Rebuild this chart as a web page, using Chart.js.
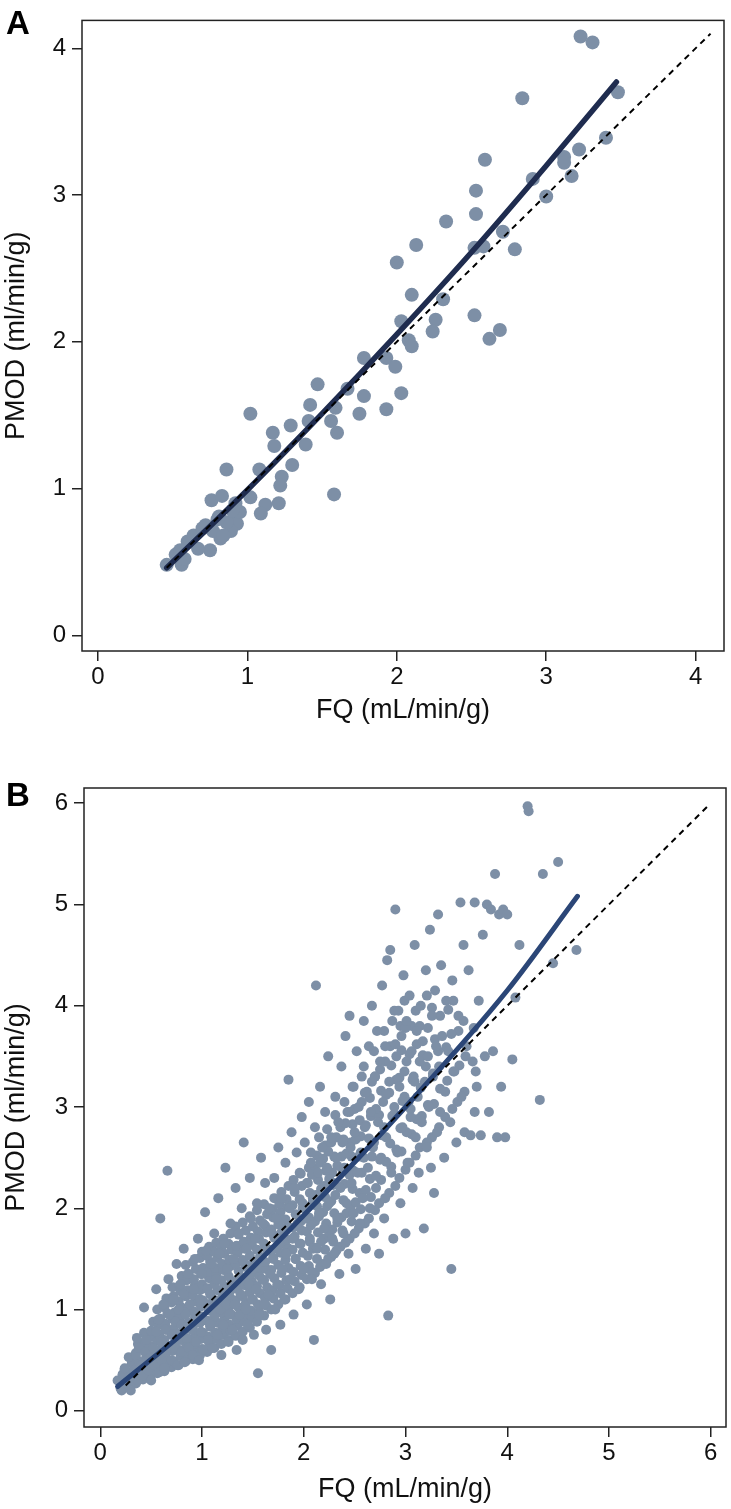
<!DOCTYPE html>
<html>
<head>
<meta charset="utf-8">
<script src="https://cdn.jsdelivr.net/npm/chart.js@4.4.1/dist/chart.umd.min.js"></script>
<style>
  body { margin: 0; background: #fff; width: 731px; height: 1509px; position: relative; overflow: hidden; font-family: "Liberation Sans", Arial, sans-serif; }
  .panel { position: absolute; left: 0; width: 731px; }
  .tag { position: absolute; left: 6px; font-weight: bold; font-size: 33px; line-height: 1; color: #000; }
</style>
</head>
<body>
<div class="panel" style="top:0;height:745px"><canvas id="chartA" width="731" height="745"></canvas></div>
<div class="panel" style="top:745px;height:764px"><canvas id="chartB" width="731" height="764"></canvas></div>
<div class="tag" style="top:6px">A</div>
<div class="tag" style="top:778px">B</div>
<script>
// axis labels and ticks
const xTitle = 'FQ (mL/min/g)';
const yTitle = 'PMOD (ml/min/g)';
const ticksA = [0, 1, 2, 3, 4];
const ticksB = [0, 1, 2, 3, 4, 5, 6];

// panel A: individual subjects [FQ, PMOD]
const pointsA = [
  [3.23,4.08],[3.31,4.04],[2.84,3.66],[3.48,3.70],[3.40,3.39],[3.22,3.31],[3.12,3.26],[3.12,3.22],
  [3.17,3.13],[2.91,3.11],[3.00,2.99],[2.59,3.24],[2.53,3.03],[2.53,2.87],[2.33,2.82],[2.71,2.75],
  [2.52,2.64],[2.58,2.65],[2.79,2.63],[2.13,2.66],[2.00,2.54],[2.10,2.32],[2.31,2.29],[2.03,2.14],
  [2.26,2.15],[2.24,2.07],[2.08,2.01],[2.10,1.97],[2.52,2.18],[2.62,2.02],[2.69,2.08],[1.78,1.89],
  [1.93,1.89],[1.99,1.83],[1.67,1.68],[1.78,1.63],[2.03,1.65],[1.75,1.51],[1.93,1.54],[1.59,1.55],
  [1.56,1.46],[1.47,1.71],[1.42,1.57],[1.41,1.46],[1.60,1.38],[1.29,1.43],[1.39,1.30],[1.17,1.38],
  [1.18,1.29],[1.02,1.51],[1.30,1.16],[1.08,1.13],[0.86,1.13],[1.23,1.08],[1.22,1.02],[1.58,0.96],
  [1.02,0.94],[1.21,0.90],[1.12,0.89],[1.09,0.83],[0.76,0.92],[0.83,0.95],[0.92,0.90],[0.81,0.81],
  [0.72,0.75],[0.92,0.82],[0.93,0.76],[0.89,0.71],[0.82,0.66],[0.75,0.58],[0.60,0.64],[0.67,0.59],
  [0.52,0.55],[0.46,0.48],[0.56,0.48],[0.95,0.84],[0.86,0.77],[0.77,0.71],[0.84,0.68],[0.64,0.68],
  [0.55,0.58],[0.58,0.52],[0.70,0.73],[0.80,0.79],[0.90,0.85]
];
// panel A: fitted curve and identity line
const fitAx = [0.46, 1.0, 1.5, 2.0, 2.5, 3.0, 3.47];
const fitAy = [0.46, 0.99, 1.51, 2.05, 2.61, 3.20, 3.77];
const idAx = [0.46, 4.1];

// panel B: scattered subjects [FQ, PMOD]
const pointsB = [
  [0.17,0.30],[0.20,0.22],[0.22,0.36],[0.25,0.27],[0.24,0.42],[0.28,0.33],[0.30,0.20],
  [0.33,0.40],[0.35,0.55],[0.37,0.30],[0.38,0.62],[0.40,0.45],[0.36,0.72],[0.42,0.35],[0.44,0.58],
  [0.45,0.70],[0.47,0.40],[0.48,0.52],[0.43,1.02],[0.50,0.30],
  [0.52,0.62],[0.53,0.45],[0.55,0.78],[0.56,0.55],[0.58,0.38],[0.57,0.90],[0.60,0.68],[0.60,0.50],
  [0.62,1.05],[0.63,0.42],[0.64,0.80],[0.55,1.20],[0.59,1.90],[0.66,2.37],[0.65,0.60],[0.67,1.30],[0.68,0.95],
  [0.70,0.50],[0.71,0.75],[0.72,1.10],[0.73,0.62],[0.74,0.88],[0.75,1.45],[0.76,0.45],[0.77,1.00],
  [0.78,0.70],[0.79,1.25],[0.80,0.58],[0.80,0.85],[0.82,1.60],[0.82,1.15],[0.83,0.48],[0.84,0.95],
  [0.85,0.72],[0.86,1.35],[0.87,0.62],[0.88,1.05],
  [0.90,0.80],[0.91,0.55],[0.92,1.20],[0.93,1.50],[0.94,0.68],[0.95,0.95],[0.96,1.70],[0.97,0.50],
  [0.98,1.10],[0.99,0.78],[1.00,1.35],[1.01,0.60],[1.02,0.90],[1.03,1.96],[1.04,1.58],[1.05,1.20],
  [1.06,0.70],[1.07,1.00],[1.08,0.85],[1.09,1.45],
  [1.10,0.62],[1.11,1.10],[1.12,1.75],[1.13,0.95],[1.14,1.30],[1.15,0.75],[1.16,2.10],[1.17,1.55],
  [1.18,1.00],[1.19,0.55],[1.20,1.20],[1.21,0.85],[1.22,1.65],[1.23,2.40],[1.24,1.05],[1.25,1.40],
  [1.26,0.68],[1.27,0.95],[1.28,1.85],[1.29,1.20],
  [1.30,0.80],[1.31,1.50],[1.32,1.05],[1.33,2.20],[1.34,0.60],[1.35,1.30],[1.36,1.75],[1.37,0.95],
  [1.38,1.15],[1.39,2.00],[1.40,0.70],[1.41,2.65],[1.42,1.45],[1.43,1.00],[1.44,1.60],[1.45,0.85],
  [1.46,1.25],[1.47,2.30],[1.48,1.90],[1.49,1.10],[1.55,0.37],
  [1.50,1.40],[1.51,0.75],[1.52,1.70],[1.53,1.20],[1.54,2.05],[1.56,0.95],[1.57,1.50],[1.58,2.50],
  [1.59,1.30],[1.60,1.85],[1.61,1.05],[1.62,2.25],[1.63,0.80],[1.64,1.60],[1.65,1.15],[1.66,2.00],
  [1.67,1.35],[1.68,0.60],[1.69,1.75],
  [1.70,1.50],[1.71,2.30],[1.72,1.00],[1.73,1.90],[1.74,1.25],[1.75,2.60],[1.76,1.65],[1.77,0.85],
  [1.78,2.10],[1.79,1.40],[1.80,1.80],[1.81,1.10],[1.82,2.45],[1.83,1.55],[1.85,3.27],[1.86,2.00],
  [1.87,1.30],[1.88,2.75],[1.89,1.70],[1.90,0.95],
  [1.91,2.20],[1.92,1.50],[1.93,2.55],[1.94,1.85],[1.95,1.20],[1.96,2.35],[1.97,1.65],[1.98,2.90],
  [1.99,2.05],[2.00,1.40],[2.01,2.65],[2.02,1.90],[2.03,1.05],[2.04,2.25],[2.05,3.05],[2.06,1.70],
  [2.07,2.45],[2.08,1.30],[2.09,2.10],[2.10,0.70],
  [2.11,2.80],[2.12,4.20],[2.13,1.60],[2.14,2.35],[2.15,1.95],[2.16,3.20],[2.17,1.25],[2.18,2.60],
  [2.19,2.15],[2.20,1.80],[2.21,2.95],[2.22,1.45],[2.23,2.40],[2.24,3.50],[2.25,2.05],[2.26,1.10],
  [2.27,2.70],[2.28,1.70],[2.29,2.25],[2.30,1.55],
  [2.31,3.10],[2.32,2.50],[2.33,1.90],[2.34,2.85],[2.35,1.35],[2.36,2.20],[2.37,3.40],[2.38,2.65],
  [2.39,1.75],[2.40,2.40],[2.41,3.70],[2.42,2.05],[2.43,2.95],[2.44,1.55],[2.45,3.90],[2.46,2.60],
  [2.47,2.25],[2.48,3.20],[2.49,1.95],
  [2.50,2.75],[2.51,1.40],[2.52,3.55],[2.53,2.35],[2.54,3.00],[2.55,1.85],[2.56,2.55],[2.57,3.30],
  [2.58,2.10],[2.59,3.85],[2.60,2.80],[2.61,1.60],[2.62,3.15],[2.63,2.40],[2.64,3.60],[2.65,2.00],
  [2.66,2.95],[2.67,4.00],[2.68,2.60],[2.69,1.75],
  [2.70,3.30],[2.71,2.20],[2.72,3.75],[2.73,2.85],[2.74,1.55],[2.75,3.45],[2.76,2.50],[2.77,4.20],
  [2.78,3.05],[2.79,1.90],[2.80,3.60],[2.81,2.70],[2.82,4.45],[2.83,0.94],[2.84,3.25],[2.85,4.55],
  [2.86,2.35],[2.87,3.85],[2.88,1.70],[2.89,3.00],[2.90,4.95],
  [2.91,3.50],[2.92,2.55],[2.93,3.95],[2.94,3.20],[2.95,2.05],[2.96,3.70],[2.97,2.80],[2.98,4.30],
  [2.99,3.35],[3.00,1.75],[3.01,3.85],[3.02,2.45],[3.03,3.05],[3.04,4.10],[3.05,2.90],[3.06,3.55],
  [3.07,2.20],[3.08,3.30],[3.09,4.60],[3.10,2.70],
  [3.11,3.75],[3.12,3.10],[3.13,2.35],[3.14,3.45],[3.15,4.00],[3.16,2.85],[3.17,3.65],[3.18,1.80],
  [3.19,3.25],[3.20,4.35],[3.21,2.60],[3.22,3.50],[3.23,3.00],[3.24,4.75],[3.25,2.40],[3.26,3.90],
  [3.27,3.30],[3.28,2.15],[3.29,4.15],[3.30,3.60],
  [3.31,2.75],[3.32,4.90],[3.33,3.40],[3.34,2.95],[3.35,4.40],[3.36,3.70],[3.38,2.50],[3.39,3.15],
  [3.40,4.05],[3.42,3.55],[3.44,2.85],[3.45,1.40],[3.46,4.25],[3.48,3.35],[3.50,2.65],
  [3.52,3.90],[3.54,5.02],[3.55,3.10],[3.57,4.60],[3.58,2.75],[3.60,3.60],[3.62,4.35],[3.64,2.72],
  [3.66,3.45],[3.68,5.02],[3.70,3.20],
  [3.72,4.05],[3.74,2.72],[3.76,4.70],[3.78,3.50],[3.80,5.00],[3.82,2.95],[3.84,4.95],[3.86,3.55],
  [3.88,5.30],[3.90,2.70],[3.92,4.90],[3.94,3.20],[3.96,4.95],
  [3.98,2.70],[4.00,4.90],[4.05,3.47],[4.08,4.08],[4.12,4.60],[4.20,5.97],[4.21,5.92],[4.32,3.07],
  [4.35,5.30],[4.45,4.42],[4.50,5.42],[4.68,4.55]
];
// panel B: the dense core of the cloud [FQ, PMOD]
const coreB = [
  [0.21,0.20],[0.23,0.28],[0.22,0.35],[0.24,0.41],
  [0.28,0.24],[0.30,0.32],[0.29,0.38],[0.31,0.47],[0.28,0.53],
  [0.35,0.27],[0.37,0.34],[0.36,0.43],[0.38,0.49],[0.35,0.57],[0.37,0.66],
  [0.42,0.31],[0.44,0.37],[0.43,0.46],[0.45,0.52],[0.42,0.62],[0.44,0.68],[0.43,0.77],
  [0.49,0.33],[0.51,0.42],[0.50,0.48],[0.52,0.58],[0.49,0.64],[0.51,0.73],[0.50,0.79],[0.52,0.88],
  [0.56,0.37],[0.58,0.43],[0.57,0.53],[0.59,0.60],[0.56,0.69],[0.58,0.75],[0.57,0.85],[0.59,0.91],[0.56,1.00],
  [0.63,0.39],[0.65,0.48],[0.64,0.54],[0.66,0.64],[0.63,0.70],[0.65,0.80],[0.64,0.86],[0.66,0.96],[0.63,1.02],[0.65,1.11],
  [0.70,0.43],[0.72,0.49],[0.71,0.59],[0.73,0.65],[0.70,0.75],[0.72,0.81],[0.71,0.91],[0.73,0.97],[0.70,1.07],[0.72,1.13],[0.71,1.22],
  [0.77,0.45],[0.79,0.54],[0.78,0.60],[0.80,0.70],[0.77,0.76],[0.79,0.86],[0.78,0.92],[0.80,1.02],[0.77,1.08],[0.79,1.18],[0.78,1.24],[0.80,1.33],
  [0.84,0.49],[0.86,0.55],[0.85,0.65],[0.87,0.71],[0.84,0.81],[0.86,0.87],[0.85,0.97],[0.87,1.03],[0.84,1.13],[0.86,1.19],[0.85,1.29],[0.87,1.35],[0.84,1.44],
  [0.91,0.51],[0.93,0.60],[0.92,0.66],[0.94,0.76],[0.91,0.82],[0.93,0.92],[0.92,0.98],[0.94,1.08],[0.91,1.14],[0.93,1.24],[0.92,1.30],[0.94,1.40],[0.91,1.47],
  [0.98,0.55],[1.00,0.61],[0.99,0.71],[1.01,0.77],[0.98,0.87],[1.00,0.93],[0.99,1.03],[1.01,1.09],[0.98,1.19],[1.00,1.25],[0.99,1.35],[1.01,1.41],[0.98,1.51],[1.00,1.57],
  [1.05,0.58],[1.07,0.67],[1.06,0.73],[1.08,0.83],[1.05,0.89],[1.07,0.99],[1.06,1.05],[1.08,1.15],[1.05,1.21],[1.07,1.31],[1.06,1.37],[1.08,1.47],[1.05,1.53],[1.07,1.62],
  [1.12,0.62],[1.14,0.71],[1.13,0.77],[1.15,0.87],[1.12,0.93],[1.14,1.03],[1.13,1.09],[1.15,1.19],[1.12,1.25],[1.14,1.35],[1.13,1.41],[1.15,1.51],[1.12,1.57],[1.14,1.66],
  [1.19,0.66],[1.21,0.75],[1.20,0.81],[1.22,0.91],[1.19,0.97],[1.21,1.07],[1.20,1.13],[1.22,1.23],[1.19,1.29],[1.21,1.39],[1.20,1.45],[1.22,1.55],[1.19,1.61],[1.21,1.70],
  [1.26,0.70],[1.28,0.79],[1.27,0.85],[1.29,0.95],[1.26,1.01],[1.28,1.11],[1.27,1.17],[1.29,1.27],[1.26,1.33],[1.28,1.43],[1.27,1.49],[1.29,1.59],[1.26,1.65],[1.28,1.75],
  [1.33,0.74],[1.35,0.84],[1.34,0.91],[1.36,1.02],[1.33,1.09],[1.35,1.20],[1.34,1.27],[1.36,1.38],[1.33,1.45],[1.35,1.56],[1.34,1.63],[1.36,1.74],[1.33,1.82],
  [1.40,0.78],[1.42,0.88],[1.41,0.95],[1.43,1.06],[1.40,1.13],[1.42,1.24],[1.41,1.31],[1.43,1.42],[1.40,1.49],[1.42,1.60],[1.41,1.67],[1.43,1.78],[1.40,1.86],
  [1.47,0.82],[1.49,0.92],[1.48,0.99],[1.50,1.10],[1.47,1.17],[1.49,1.28],[1.48,1.35],[1.50,1.46],[1.47,1.53],[1.49,1.64],[1.48,1.71],[1.50,1.82],[1.47,1.92],
  [1.54,0.88],[1.56,0.98],[1.55,1.05],[1.57,1.16],[1.54,1.23],[1.56,1.34],[1.55,1.41],[1.57,1.52],[1.54,1.59],[1.56,1.70],[1.55,1.77],[1.57,1.88],[1.54,1.98],
  [1.61,0.94],[1.63,1.04],[1.62,1.11],[1.64,1.22],[1.61,1.29],[1.63,1.40],[1.62,1.47],[1.64,1.58],[1.61,1.65],[1.63,1.76],[1.62,1.83],[1.64,1.94],[1.61,2.04],
  [1.68,1.00],[1.70,1.11],[1.69,1.19],[1.71,1.31],[1.68,1.39],[1.70,1.51],[1.69,1.59],[1.71,1.71],[1.68,1.79],[1.70,1.91],[1.69,1.99],[1.71,2.10],
  [1.75,1.05],[1.77,1.16],[1.76,1.24],[1.78,1.36],[1.75,1.44],[1.77,1.56],[1.76,1.64],[1.78,1.76],[1.75,1.84],[1.77,1.96],[1.76,2.04],[1.78,2.16],
  [1.82,1.10],[1.84,1.21],[1.83,1.29],[1.85,1.41],[1.82,1.49],[1.84,1.61],[1.83,1.69],[1.85,1.81],[1.82,1.89],[1.84,2.01],[1.83,2.09],[1.85,2.22],
  [1.89,1.16],[1.91,1.28],[1.90,1.37],[1.92,1.50],[1.89,1.59],[1.91,1.72],[1.90,1.81],[1.92,1.94],[1.89,2.03],[1.91,2.16],[1.90,2.28],
  [1.96,1.22],[1.98,1.34],[1.97,1.43],[1.99,1.56],[1.96,1.65],[1.98,1.78],[1.97,1.87],[1.99,2.00],[1.96,2.09],[1.98,2.22],[1.97,2.34],
  [2.03,1.30],[2.05,1.43],[2.04,1.53],[2.06,1.67],[2.03,1.77],[2.05,1.91],[2.04,2.01],[2.06,2.15],[2.03,2.25],[2.05,2.40],
  [2.11,1.36],[2.13,1.50],[2.12,1.61],[2.14,1.76],[2.11,1.87],[2.13,2.02],[2.12,2.13],[2.14,2.28],[2.11,2.39],[2.13,2.52],
  [2.19,1.45],[2.21,1.59],[2.20,1.70],[2.22,1.85],[2.19,1.96],[2.21,2.11],[2.20,2.22],[2.22,2.37],[2.19,2.49],[2.21,2.62],
  [2.27,1.52],[2.29,1.67],[2.28,1.79],[2.30,1.95],[2.27,2.07],[2.29,2.23],[2.28,2.35],[2.30,2.51],[2.27,2.65],
  [2.36,1.62],[2.38,1.78],[2.37,1.91],[2.39,2.08],[2.36,2.21],[2.38,2.38],[2.37,2.51],[2.39,2.68],[2.36,2.80],
  [2.45,1.70],[2.47,1.87],[2.46,2.01],[2.48,2.19],[2.45,2.33],[2.47,2.51],[2.46,2.65],[2.48,2.83],[2.45,2.95],
  [2.54,1.80],[2.56,1.99],[2.55,2.15],[2.57,2.35],[2.54,2.51],[2.56,2.71],[2.55,2.87],[2.57,3.05],
  [2.64,1.90],[2.66,2.11],[2.65,2.29],[2.67,2.51],[2.64,2.69],[2.66,2.91],[2.65,3.09],[2.67,3.25],
  [2.74,2.05],[2.76,2.28],[2.75,2.48],[2.77,2.72],[2.74,2.92],[2.76,3.16],[2.75,3.37],
  [2.84,2.15],[2.86,2.41],[2.85,2.64],[2.87,2.91],[2.84,3.14],[2.86,3.41],[2.85,3.60],
  [2.94,2.30],[2.96,2.56],[2.95,2.79],[2.97,3.06],[2.94,3.29],[2.96,3.56],[2.95,3.80],
  [3.04,2.45],[3.06,2.73],[3.05,2.98],[3.07,3.27],[3.04,3.52],[3.06,3.80],
  [3.14,2.60],[3.16,2.91],[3.15,3.19],[3.17,3.51],[3.14,3.80],
  [3.26,2.70],[3.28,3.03],[3.27,3.33],[3.29,3.67],[3.26,3.98],
  [3.39,2.90],[3.41,3.26],[3.40,3.59],[3.42,3.96],
  [3.51,3.05],[3.53,3.41],[3.52,3.75]
];
// panel B: the upper, looser part of the cloud [FQ, PMOD]
const upperB = [
  [2.08,1.37],[2.09,1.60],[2.07,1.83],[2.09,2.07],[2.08,2.33],[2.07,2.55],
  [2.16,1.42],[2.17,1.67],[2.15,1.92],[2.17,2.19],[2.16,2.45],[2.15,2.70],
  [2.24,1.50],[2.25,1.76],[2.23,2.02],[2.25,2.29],[2.24,2.56],[2.23,2.78],
  [2.32,1.58],[2.33,1.86],[2.31,2.13],[2.33,2.42],[2.32,2.70],[2.31,2.92],
  [2.41,1.66],[2.42,1.95],[2.40,2.24],[2.42,2.54],[2.41,2.84],[2.40,3.05],
  [2.50,1.75],[2.51,2.06],[2.49,2.37],[2.51,2.68],[2.50,2.98],[2.49,3.20],
  [2.60,1.85],[2.61,2.18],[2.59,2.50],[2.61,2.82],[2.60,3.14],[2.59,3.40],
  [2.70,1.98],[2.71,2.32],[2.69,2.65],[2.71,2.98],[2.70,3.30],[2.69,3.55],
  [2.80,2.10],[2.81,2.46],[2.79,2.80],[2.81,3.12],[2.80,3.45],[2.79,3.75],
  [2.90,2.22],[2.91,2.58],[2.89,2.93],[2.91,3.27],[2.90,3.62],[2.89,3.95],
  [3.00,2.38],[3.01,2.75],[2.99,3.10],[3.01,3.45],[3.00,3.78],[2.99,4.05],
  [3.10,2.52],[3.11,2.88],[3.09,3.25],[3.11,3.62],[3.10,3.95],
  [3.21,2.65],[3.22,3.02],[3.20,3.40],[3.22,3.78],[3.21,4.10],
  [3.33,2.80],[3.34,3.18],[3.32,3.55],[3.34,3.90],
  [3.46,2.98],[3.47,3.35],[3.45,3.72],[3.47,4.05],
  [3.58,3.15],[3.59,3.50],[3.57,3.85],
  [3.68,2.95],[3.69,3.35],[3.67,3.78]
];
// panel B: fitted curve and identity line
const fitBx = [0.17, 1.0, 2.0, 3.0, 4.0, 4.69];
const fitBy = [0.24, 0.93, 1.93, 3.00, 4.15, 5.08];
const idBx = [0.25, 5.97];

const FONT = '"Liberation Sans", Arial, Helvetica, sans-serif';
const DOT = '#7d8fa6';

const framePlugin = {
  id: 'frame',
  afterDraw(chart) {
    const { ctx, chartArea: a } = chart;
    ctx.save();
    ctx.strokeStyle = '#222';
    ctx.lineWidth = 1.5;
    ctx.strokeRect(a.left, a.top, a.right - a.left, a.bottom - a.top);
    ctx.restore();
  }
};

function axis(isX, min, max, tickVals, title, size, titlePad) {
  return {
    type: 'linear',
    position: isX ? 'bottom' : 'left',
    min: min,
    max: max,
    afterBuildTicks: s => { s.ticks = tickVals.map(v => ({ value: v })); },
    afterFit: s => { if (isX) s.height = size; else s.width = size; },
    border: { display: false },
    grid: { drawOnChartArea: false, drawTicks: true, tickLength: 10, color: '#222', lineWidth: 1.5 },
    ticks: { color: '#111', font: { family: FONT, size: 24 }, padding: isX ? 2 : 6, maxRotation: 0 },
    title: {
      display: true, text: title, color: '#111',
      font: { family: FONT, size: 27 },
      padding: isX ? { top: 0, bottom: titlePad } : { top: titlePad, bottom: 0 }
    }
  };
}

function makePanel(id, cfg) {
  new Chart(document.getElementById(id), {
    type: 'scatter',
    data: {
      datasets: [
        {
          type: 'scatter',
          data: cfg.points.map(p => ({ x: p[0], y: p[1] })),
          backgroundColor: DOT, borderWidth: 0, pointRadius: cfg.radius, order: 3
        },
        {
          type: 'line',
          data: cfg.fitX.map((x, i) => ({ x: x, y: cfg.fitY[i] })),
          borderColor: cfg.lineColor, borderWidth: cfg.lineWidth, borderCapStyle: 'round',
          pointRadius: 0, cubicInterpolationMode: 'monotone', fill: false, order: 2
        },
        {
          type: 'line',
          data: cfg.idX.map(x => ({ x: x, y: x })),
          borderColor: '#000', borderWidth: 2, borderDash: [6, 5],
          pointRadius: 0, fill: false, order: 1
        }
      ]
    },
    options: {
      responsive: false,
      animation: false,
      devicePixelRatio: 1,
      layout: { padding: cfg.padding },
      plugins: { legend: { display: false }, tooltip: { enabled: false } },
      scales: {
        x: axis(true, cfg.min, cfg.max, cfg.ticks, xTitle, cfg.xHeight, cfg.xTitlePad),
        y: axis(false, cfg.min, cfg.max, cfg.ticks, yTitle, cfg.yWidth, 0)
      }
    },
    plugins: [framePlugin]
  });
}

makePanel('chartA', {
  points: pointsA, radius: 7, fitX: fitAx, fitY: fitAy, idX: idAx,
  lineColor: '#1f2c4f', lineWidth: 5.5,
  min: -0.107, max: 4.19, ticks: ticksA,
  padding: { top: 12, right: 7, bottom: 0, left: 0 },
  xHeight: 94, yWidth: 82, xTitlePad: 18
});

makePanel('chartB', {
  points: coreB.concat(upperB, pointsB), radius: 5, fitX: fitBx, fitY: fitBy, idX: idBx,
  lineColor: '#2b4677', lineWidth: 5,
  min: -0.16, max: 6.15, ticks: ticksB,
  padding: { top: 43, right: 5, bottom: 0, left: 0 },
  xHeight: 82, yWidth: 84, xTitlePad: 3
});
</script>
</body>
</html>
